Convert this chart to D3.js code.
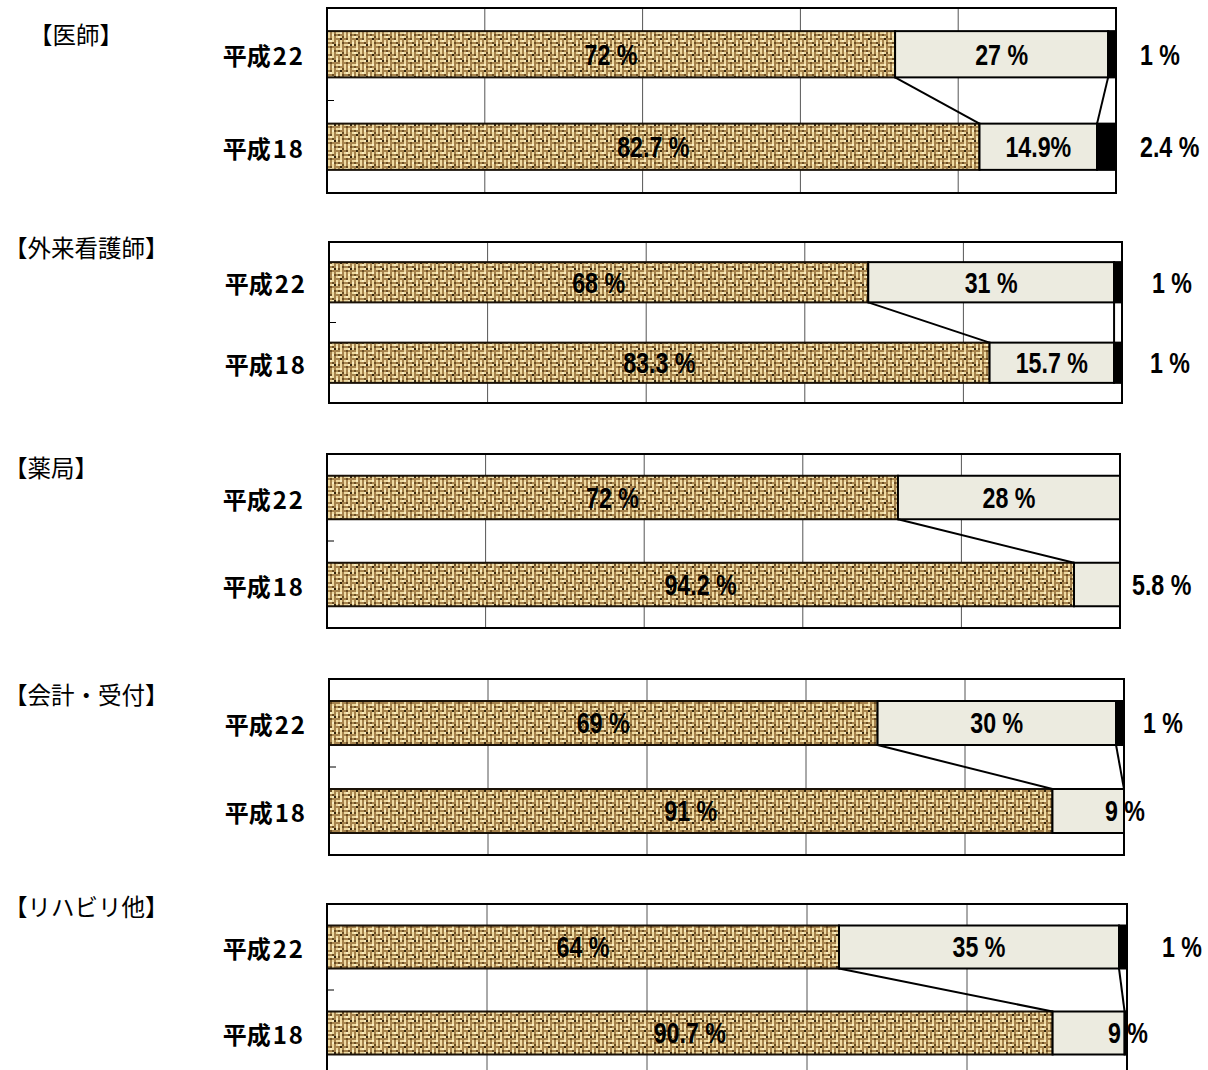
<!DOCTYPE html>
<html>
<head>
<meta charset="utf-8">
<script src="https://cdn.jsdelivr.net/npm/d3@7"></script>
<style>
  html, body { margin: 0; padding: 0; background: #fff; }
  svg { display: block; }
</style>
</head>
<body>
<svg id="chart" width="1208" height="1070"></svg>
<script>
// Survey years (two bars per group)
const categories = ['平成22', '平成18'];
// Staff groups
const groups = ['【医師】', '【外来看護師】', '【薬局】', '【会計・受付】', '【リハビリ他】'];
// Share (%) per group: [平成22, 平成18]
const shareFirst  = [[72, 82.7], [68, 83.3], [72, 94.2], [69, 91], [64, 90.7]];
const shareSecond = [[27, 14.9], [31, 15.7], [28, 5.8], [30, 9], [35, 9]];
const shareThird  = [[1, 2.4], [1, 1], [0, 0], [1, 0], [1, 0.3]];
// Axis ticks (percent)
const ticks = [0, 20, 40, 60, 80, 100];

// Panel frames and label placement
// second: where the middle segment's label goes (in = centred, out = right of frame, edge = across the border)
const layout = [
  { x0: 327, x1: 1116, y0: 8,   y1: 193,  tx: 35, ty: 34,  outDx: [24, 24],    second: ['in', 'in'] },
  { x0: 329, x1: 1122, y0: 242, y1: 403,  tx: 10, ty: 247, outDx: [30, 28],    second: ['in', 'in'] },
  { x0: 327, x1: 1120, y0: 454, y1: 628,  tx: 10, ty: 467, outDx: [null, 12],  second: ['in', 'out'] },
  { x0: 329, x1: 1124, y0: 679, y1: 855,  tx: 10, ty: 694, outDx: [19, null],  second: ['in', 'edge'] },
  { x0: 327, x1: 1127, y0: 904, y1: 1076, tx: 10, ty: 906, outDx: [35, null],  second: ['in', 'edge'] }
];
const tightLabel = { '0-1': true };   // "14.9%" is written without a space

const svg = d3.select('#chart');
const defs = svg.append('defs');

// Woven burlap fill (2px cells)
const weaveColors = { L: '#eed9a0', W: '#f9ecc0', M: '#a6834d', D: '#6a4d24', B: '#33240e' };
const weave = [
  'LLWMLMLM',
  'MDMMLMWD',
  'LWLDLMLM',
  'MMBMMDLM',
  'LMLMLWLM',
  'WMLDMMDM',
  'LDLMLLWB',
  'MMLMMDMM'
];
const cell = 2;
const pat = defs.append('pattern').attr('id', 'burlap')
  .attr('patternUnits', 'userSpaceOnUse')
  .attr('width', weave[0].length * cell).attr('height', weave.length * cell);
weave.forEach((row, yy) => {
  row.split('').forEach((c, xx) => {
    pat.append('rect').attr('x', xx * cell).attr('y', yy * cell)
      .attr('width', cell).attr('height', cell)
      .attr('fill', weaveColors[c]);
  });
});

const segFill = ['url(#burlap)', '#ecebe0', '#000'];
const numFont = "'Liberation Sans', Arial, sans-serif";
const cjkFont = "'Noto Sans CJK JP', 'Noto Sans CJK SC', sans-serif";

function numLabel(g, x, y, text, anchor) {
  g.append('text')
    .attr('transform', `translate(${x},${y}) scale(0.8,1)`)
    .attr('text-anchor', anchor)
    .attr('dy', '0.36em')
    .attr('font-family', numFont)
    .attr('font-weight', 'bold')
    .attr('font-size', 29)
    .attr('fill', '#000')
    .text(text);
}

function fmt(v, tight) { return tight ? `${v}%` : `${v} %`; }

groups.forEach((name, gi) => {
  const L = layout[gi];
  const g = svg.append('g');
  const x = d3.scaleLinear().domain([0, 100]).range([L.x0, L.x1]);
  const y = d3.scaleBand().domain(categories).range([L.y0, L.y1])
    .paddingInner(0.5).paddingOuter(0.25);
  const bw = y.bandwidth();

  // group title
  g.append('text').attr('x', L.tx - 6).attr('y', L.ty)
    .attr('dominant-baseline', 'central')
    .attr('font-family', cjkFont).attr('font-size', 23.5).attr('fill', '#000')
    .text(name);

  // frame background
  g.append('rect').attr('x', L.x0).attr('y', L.y0)
    .attr('width', L.x1 - L.x0).attr('height', L.y1 - L.y0)
    .attr('fill', '#fff');

  // vertical gridlines
  g.selectAll('line.grid').data(ticks.slice(1, -1)).join('line')
    .attr('class', 'grid')
    .attr('x1', d => x(d)).attr('x2', d => x(d))
    .attr('y1', L.y0).attr('y2', L.y1)
    .attr('stroke', '#555').attr('stroke-width', 1);

  // stacked segments
  categories.forEach((cat, ci) => {
    const vals = [shareFirst[gi][ci], shareSecond[gi][ci], shareThird[gi][ci]];
    let acc = 0;
    vals.forEach((v, si) => {
      if (v > 0) {
        g.append('rect')
          .attr('x', x(acc)).attr('y', y(cat))
          .attr('width', x(acc + v) - x(acc)).attr('height', bw)
          .attr('fill', segFill[si])
          .attr('stroke', si === 0 ? '#1a1208' : '#000').attr('stroke-width', 2);
      }
      acc += v;
    });
  });

  // connector lines between the two bars
  const cumTop = [shareFirst[gi][0], shareFirst[gi][0] + shareSecond[gi][0]];
  const cumBot = [shareFirst[gi][1], shareFirst[gi][1] + shareSecond[gi][1]];
  cumTop.forEach((t, k) => {
    if (t >= 100 && cumBot[k] >= 100) return;
    g.append('line')
      .attr('x1', x(t)).attr('y1', y(categories[0]) + bw)
      .attr('x2', x(cumBot[k])).attr('y2', y(categories[1]))
      .attr('stroke', '#000').attr('stroke-width', 2);
  });

  // frame border
  g.append('rect').attr('x', L.x0).attr('y', L.y0)
    .attr('width', L.x1 - L.x0).attr('height', L.y1 - L.y0)
    .attr('fill', 'none').attr('stroke', '#000').attr('stroke-width', 2);

  // category axis tick
  g.append('line')
    .attr('x1', L.x0).attr('x2', L.x0 + 7)
    .attr('y1', (L.y0 + L.y1) / 2).attr('y2', (L.y0 + L.y1) / 2)
    .attr('stroke', '#000').attr('stroke-width', 1);

  // category labels: era name tight, year digits slightly spaced
  categories.forEach(cat => {
    const t = g.append('text')
      .attr('x', L.x0 - 24).attr('y', y(cat) + bw / 2)
      .attr('text-anchor', 'end').attr('dominant-baseline', 'central')
      .attr('font-family', cjkFont).attr('font-weight', 'bold')
      .attr('font-size', 24).attr('fill', '#000');
    t.append('tspan').text(cat.slice(0, 2));
    t.append('tspan').attr('dx', 2).attr('letter-spacing', 2).text(cat.slice(2, 3));
    t.append('tspan').text(cat.slice(3));
  });

  // value labels
  categories.forEach((cat, ci) => {
    const cy = y(cat) + bw / 2;
    const a = shareFirst[gi][ci], b = shareSecond[gi][ci], c = shareThird[gi][ci];
    const outX = L.outDx[ci] == null ? null : L.x1 + L.outDx[ci];
    numLabel(g, x(a / 2), cy, fmt(a), 'middle');
    const pos = L.second[ci];
    const bText = fmt(b, tightLabel[`${gi}-${ci}`]);
    if (pos === 'in') numLabel(g, x(a + b / 2), cy, bText, 'middle');
    else if (pos === 'out') numLabel(g, outX, cy, bText, 'start');
    else numLabel(g, L.x1 + 1, cy, bText, 'middle');
    if (c >= 1) numLabel(g, outX, cy, fmt(c), 'start');
  });
});
</script>
</body>
</html>
